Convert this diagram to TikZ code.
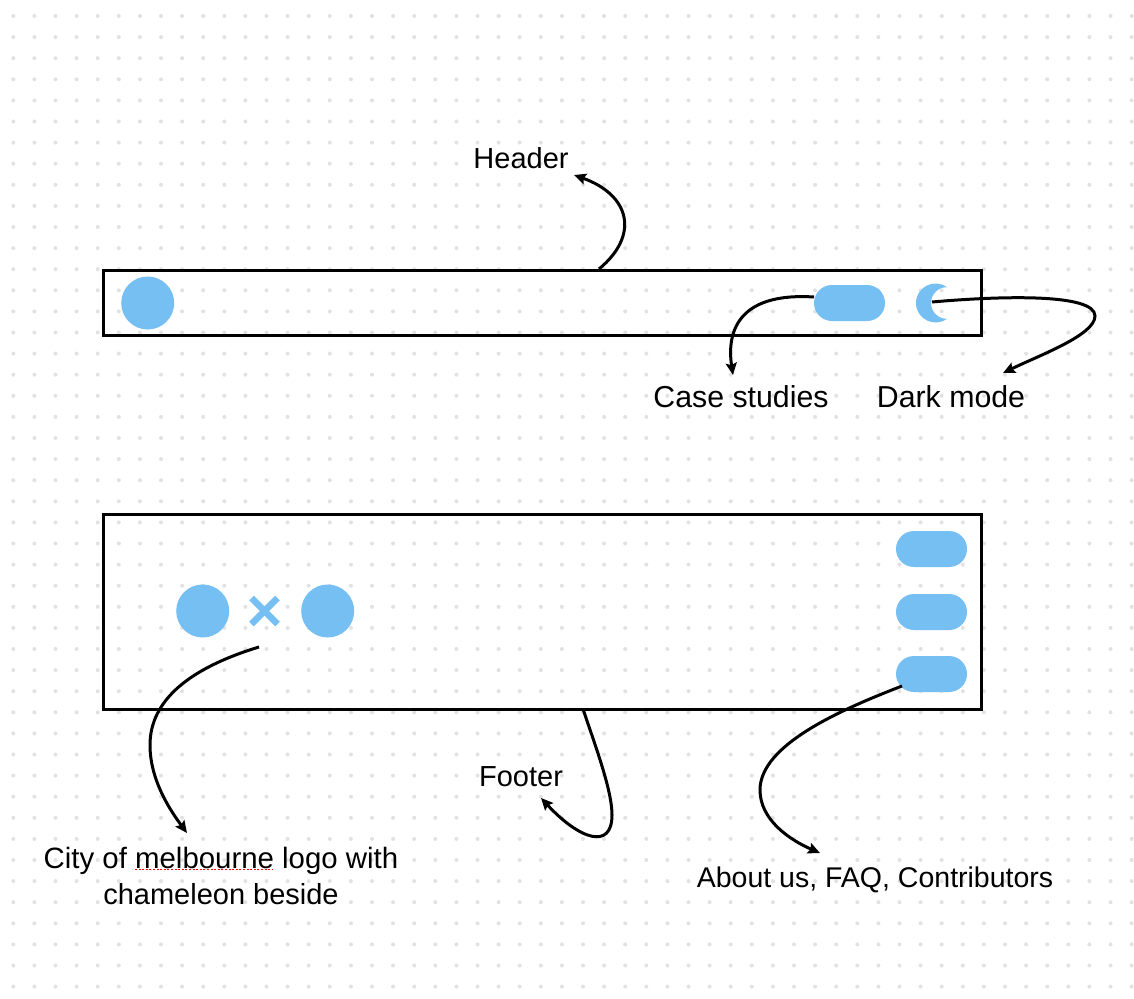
\documentclass[tikz,border=0pt]{standalone}
\usepackage{fontspec}
\setmainfont{Liberation Sans}
\usetikzlibrary{arrows.meta,shapes.misc}
\definecolor{skyfill}{HTML}{76BFF3}
\definecolor{dotgrey}{HTML}{E2E2E2}
\tikzset{
  gridpoint/.style={fill=dotgrey,draw=none},
  frame/.style={draw=black,line width=3pt,fill=none,outer sep=0pt},
  logodisc/.style={circle,fill=skyfill,draw=none,minimum size=53pt,inner sep=0pt},
  pill/.style={rounded rectangle,fill=skyfill,draw=none,minimum width=71pt,minimum height=36pt,inner sep=0pt},
  lbl/.style={font=\fontsize{29}{36}\selectfont,text=black,inner sep=0pt,anchor=base},
  widelbl/.style={font=\fontsize{30.3}{36}\selectfont,text=black,inner sep=0pt,anchor=base},
  conn/.style={draw=black,line width=3pt,-{Stealth[length=12pt,width=11pt,inset=2pt]}},
  crossarm/.style={draw=skyfill,line width=6.5pt},
}
\begin{document}
\begin{tikzpicture}[x=1pt,y=-1pt]
\useasboundingbox (0,0) rectangle (1134,998);
\fill[white] (0,0) rectangle (1134,998);
% dotted canvas
\foreach \i in {0,...,53}{
  \foreach \j in {0,...,46}{
    \fill[gridpoint] ({13.3+21.1*\i},{16+21.1*\j}) circle (2pt);
  }
}
% frames
\node[frame,minimum width=878pt,minimum height=65pt,inner sep=0pt,anchor=north west] (headbox) at (103,270.5) {};
\node[frame,minimum width=878pt,minimum height=195pt,inner sep=0pt,anchor=north west] (footbox) at (103,514) {};
% header shapes
\node[logodisc] (headlogo) at (147.7,303) {};
\node[pill] (casepill) at (849.5,303) {};
\fill[skyfill] (947,287.2) .. controls (934.1,277.9) and (916,287.1) .. (916,303)
  .. controls (916,318.9) and (934.1,328.1) .. (947,318.8)
  .. controls (938.2,319) and (931,311.8) .. (931,303)
  .. controls (931,294.2) and (938.2,287) .. (947,287.2) -- cycle;
% footer shapes
\node[logodisc] (citylogo) at (202.7,611) {};
\node[logodisc] (chamlogo) at (327.7,611) {};
\draw[crossarm] (251.5,598) -- (277.5,624);
\draw[crossarm] (251.5,624) -- (277.5,598);
\node[pill] (aboutpill) at (931.5,549) {};
\node[pill] (faqpill) at (931.5,612) {};
\node[pill] (contribpill) at (931.5,674) {};
% labels
\node[lbl] (headerlbl) at (521,168) {Header};
\node[widelbl] (caselbl) at (741,407) {Case studies};
\node[widelbl] (darklbl) at (951,407) {Dark mode};
\node[lbl] (footerlbl) at (521,786) {Footer};
\node[lbl,font=\fontsize{29.4}{36}\selectfont] (logolbl1) at (221,868) {City of melbourne logo with};
\node[lbl] (logolbl2) at (221,904) {chameleon beside};
\node[lbl,font=\fontsize{28.5}{36}\selectfont] (aboutlbl) at (875,887) {About us, FAQ, Contributors};
\draw[red,line width=1.3pt,dash pattern=on 2pt off 1.6pt] (135,869.5) -- (273,869.5);
% connector ends
\coordinate (hs) at (599,269);
\coordinate (he) at (574,175);
\coordinate (cs) at (814,297);
\coordinate (ce) at (733,375);
\coordinate (ds) at (932,302);
\coordinate (de) at (1003,373);
\coordinate (fs) at (583,709);
\coordinate (fe) at (541,798);
\coordinate (ls) at (259,647);
\coordinate (le) at (187,833);
\coordinate (as) at (902,686);
\coordinate (ae) at (820,853);
% connectors
\draw[conn] (hs) .. controls (640,235) and (630,195) .. (he);
\draw[conn] (cs) .. controls (735,292) and (727,335) .. (ce);
\draw[conn] (ds) .. controls (1000,296) and (1095,293) .. (1095,316)
  .. controls (1095,335) and (1040,355) .. (de);
\draw[conn] (fs) .. controls (595,745) and (612,790) .. (612,815)
  .. controls (612,850) and (580,840) .. (fe);
\draw[conn] (ls) .. controls (190,668) and (150,700) .. (150,745)
  .. controls (150,780) and (170,810) .. (le);
\draw[conn] (as) .. controls (840,710) and (760,745) .. (760,790)
  .. controls (760,820) and (790,840) .. (ae);
\end{tikzpicture}
\end{document}
